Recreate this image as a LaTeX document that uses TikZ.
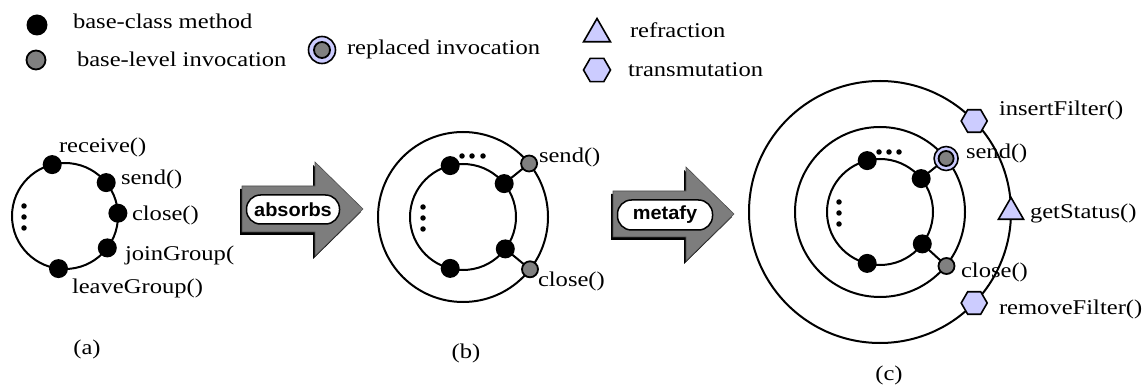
\documentclass[tikz,border=0pt]{standalone}
\usepackage{fontspec}
\setmainfont{Liberation Serif}[FakeStretch=1.17]
\newfontfamily\pillfont{Liberation Sans}[FakeStretch=1.05]
\usetikzlibrary{shapes.geometric,calc}

\definecolor{dotgray}{RGB}{128,128,128}
\definecolor{lavender}{RGB}{204,204,255}
\definecolor{arrowgray}{RGB}{125,125,125}

\pgfdeclarelayer{bg}
\pgfsetlayers{bg,main}

\tikzset{
  bigarrow/.pic={
    % drop shadow, then the grey block arrow
    \fill[black] (-2,-20) -- (71,-20) -- (71,-44) -- (119,3) -- (71,50) -- (71,26) -- (-2,26) -- cycle;
    \filldraw[fill=arrowgray, draw=black!70, line width=0.6pt]
      (0,-23) -- (73,-23) -- (73,-47) -- (121,0) -- (73,47) -- (73,23) -- (0,23) -- cycle;
  }
}

\begin{document}
\begin{tikzpicture}[x=1pt,y=-1pt,
  every node/.style={inner sep=0pt, outer sep=0pt},
  txt/.style={font=\fontsize{21}{25}\selectfont},
  lbl/.style={txt, anchor=west, text height=15.75pt, text depth=5.25pt},
  leg/.style={txt, anchor=base west},
  ring/.style={line width=2pt},
  method/.style={circle, fill=black, minimum size=19pt},
  invoc/.style={circle, draw=black, line width=1.8pt, fill=dotgray, minimum size=16pt},
  replring/.style={circle, draw=black, line width=1.6pt, fill=lavender, minimum size=24pt},
  smalldot/.style={circle, fill=black, minimum size=5.5pt},
  refr/.style={regular polygon, regular polygon sides=3, draw=black, line width=1.6pt, fill=lavender, minimum size=29pt},
  trans/.style={regular polygon, regular polygon sides=6, draw=black, line width=1.6pt, fill=lavender, minimum size=26pt},
  pill/.style={draw=black, line width=1.5pt, fill=white, rounded corners=14pt,
    font=\pillfont\bfseries\fontsize{19}{21}\selectfont},
]
\useasboundingbox (0,0) rectangle (1143,387);

% ---------- legend ----------
\node[method, minimum size=21pt] (lgm) at (37,25) {};
\node[leg] (lgmt) at (73,29) {base-class method};
\node[invoc, minimum size=19pt] (lgi) at (36,60) {};
\node[leg] (lgit) at (77,67) {base-level invocation};
\node[replring, minimum size=27pt] (lgr) at (322,50) {};
\node[invoc, minimum size=16pt] (lgri) at (322,50) {};
\node[leg] (lgrt) at (347,55) {replaced invocation};
\node[refr, minimum size=31pt] (lgt) at (597,34) {};
\node[leg] (lgtt) at (630,38) {refraction};
\node[trans, minimum size=27pt] (lgh) at (597,70) {};
\node[leg] (lght) at (628,77) {transmutation};

% ---------- (a) the base class ----------
\coordinate (ca) at (65,216);
\begin{pgfonlayer}{bg}
  \draw[ring] (ca) circle[radius=53];
\end{pgfonlayer}
\node[method] (a1) at ($(ca)+(-12.8,-51.4)$) {};
\node[method] (a2) at ($(ca)+(41.2,-33.4)$) {};
\node[method] (a3) at ($(ca)+(52.9,-2.8)$) {};
\node[method] (a4) at ($(ca)+(42.3,31.9)$) {};
\node[method] (a5) at ($(ca)+(-6.5,52.6)$) {};
\foreach \dy [count=\i] in {-11,0,11}
  \node[smalldot] (av\i) at ($(ca)+(-41,\dy+1)$) {};
\node[lbl] (a1t) at (59,147) {receive()};
\node[lbl] (a2t) at (121,179) {send()};
\node[lbl] (a3t) at (132,215) {close()};
\node[lbl] (a4t) at (125,255) {joinGroup(};
\node[lbl] (a5t) at (72,288) {leaveGroup()};
\node[txt] (acap) at (87,349) {(a)};

% ---------- absorbs ----------
\pic at (242,209) {bigarrow};
\node[pill, minimum width=93pt, minimum height=29pt] (absorbs) at (293,209.5) {absorbs};

% ---------- (b) the absorbed class ----------
\coordinate (cb) at (463,217);
\node[method] (b1) at ($(cb)+(-12.8,-51.4)$) {};
\node[method] (b2) at ($(cb)+(41.2,-33.4)$) {};
\node[method] (b3) at ($(cb)+(42.3,31.9)$) {};
\node[method] (b4) at ($(cb)+(-12.8,51.4)$) {};
\node[invoc] (bs) at ($(cb)+(66.1,-53.5)$) {};
\node[invoc] (bc) at ($(cb)+(67,52.3)$) {};
\begin{pgfonlayer}{bg}
  \draw[ring] (cb) circle[radius=53];
  \draw[ring] (cb) circle[radius=85];
  \draw[ring] (b2.center) -- (bs.center);
  \draw[ring] (b3.center) -- (bc.center);
\end{pgfonlayer}
\foreach \dx [count=\i] in {-1,9,20}
  \node[smalldot] (bh\i) at ($(cb)+(\dx,-61)$) {};
\foreach \dy [count=\i] in {-11,0,11}
  \node[smalldot] (bv\i) at ($(cb)+(-40,\dy+1)$) {};
\node[lbl] (bst) at (539,157) {send()};
\node[lbl] (bct) at (538,281) {close()};
\node[txt] (bcap) at (466,353) {(b)};

% ---------- metafy ----------
\pic at (613,214) {bigarrow};
\node[pill, minimum width=95pt, minimum height=30pt] (metafy) at (665,215) {metafy};

% ---------- (c) the metafied class ----------
\coordinate (cc) at (880,212);
\node[method] (c1) at ($(cc)+(-12.8,-51.4)$) {};
\node[method] (c2) at ($(cc)+(41.2,-33.4)$) {};
\node[method] (c3) at ($(cc)+(42.3,31.9)$) {};
\node[method] (c4) at ($(cc)+(-12.8,51.4)$) {};
\node[replring] (cs) at ($(cc)+(66.1,-53.5)$) {};
\node[invoc, minimum size=15pt] (csi) at (cs) {};
\node[invoc] (ccl) at ($(cc)+(66.5,54)$) {};
\node[trans] (cins) at ($(cc)+(94.2,-91)$) {};
\node[refr] (cget) at ($(cc)+(131,0)$) {};
\node[trans] (crem) at ($(cc)+(94.2,91)$) {};
\begin{pgfonlayer}{bg}
  \draw[ring] (cc) circle[radius=53];
  \draw[ring] (cc) circle[radius=85];
  \draw[ring] (cc) circle[radius=131];
  \draw[ring] (c2.center) -- (cs.center);
  \draw[ring] (c3.center) -- (ccl.center);
\end{pgfonlayer}
\foreach \dx [count=\i] in {-1,9,19}
  \node[smalldot] (ch\i) at ($(cc)+(\dx,-60)$) {};
\foreach \dy [count=\i] in {-11,0,11}
  \node[smalldot] (cv\i) at ($(cc)+(-41,\dy+1)$) {};
\node[lbl] (cinst) at (999,110) {insertFilter()};
\node[lbl] (cst) at (966,153) {send()};
\node[lbl] (cgett) at (1030,213) {getStatus()};
\node[lbl] (cclt) at (961,272) {close()};
\node[lbl] (cremt) at (999,309) {removeFilter()};
\node[txt] (ccap) at (889,375) {(c)};
\end{tikzpicture}
\end{document}
